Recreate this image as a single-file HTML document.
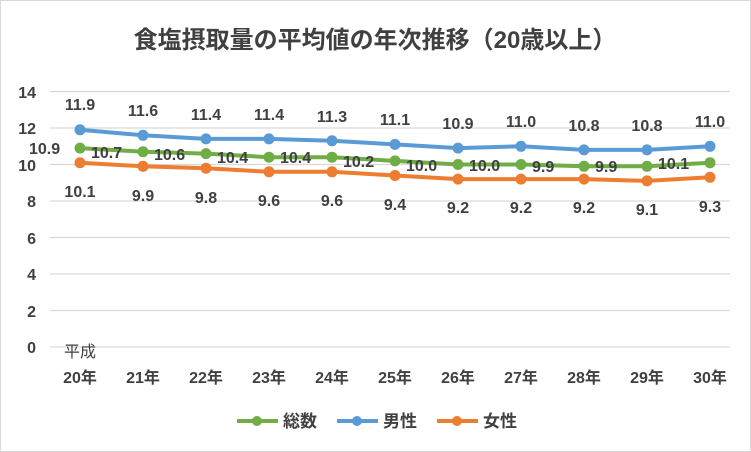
<!DOCTYPE html>
<html><head><meta charset="utf-8"><style>
body{margin:0;background:#fff}
svg{display:block;font-family:"Liberation Sans","Noto Sans CJK JP",sans-serif}
</style></head><body>
<svg width="751" height="452" viewBox="0 0 751 452">
<rect x="0.5" y="0.5" width="750" height="451" fill="#fff" stroke="#d9d9d9"/>
<text x="375" y="48" text-anchor="middle" font-size="24" font-weight="bold" fill="#404040">食塩摂取量の平均値の年次推移（20歳以上）</text>
<g stroke="#d9d9d9" stroke-width="1.3">
<line x1="50" x2="730" y1="347" y2="347"/><line x1="50" x2="730" y1="310.5" y2="310.5"/>
<line x1="50" x2="730" y1="274" y2="274"/><line x1="50" x2="730" y1="237.5" y2="237.5"/>
<line x1="50" x2="730" y1="201" y2="201"/><line x1="50" x2="730" y1="164.5" y2="164.5"/>
<line x1="50" x2="730" y1="128" y2="128"/><line x1="50" x2="730" y1="91.5" y2="91.5"/>
</g>
<g font-size="16" font-weight="bold" fill="#404040" text-anchor="end">
<text x="36" y="353">0</text><text x="36" y="317">2</text><text x="36" y="280">4</text><text x="36" y="244">6</text>
<text x="36" y="207">8</text><text x="36" y="171">10</text><text x="36" y="134">12</text><text x="36" y="98">14</text>
</g>
<g font-size="16" font-weight="bold" fill="#404040" text-anchor="middle">
<text x="80" y="357" font-weight="normal">平成</text>
<text x="80" y="383">20年</text><text x="143" y="383">21年</text><text x="206" y="383">22年</text><text x="269" y="383">23年</text>
<text x="332" y="383">24年</text><text x="395" y="383">25年</text><text x="458" y="383">26年</text><text x="521" y="383">27年</text>
<text x="584" y="383">28年</text><text x="647" y="383">29年</text><text x="710" y="383">30年</text>
</g>
<g stroke-width="4" fill="none" stroke-linejoin="round">
<polyline stroke="#5b9bd5" points="80,129.8 143,135.3 206,138.9 269,138.9 332,140.8 395,144.4 458,148.1 521,146.3 584,149.9 647,149.9 710,146.3"/>
<polyline stroke="#70ad47" points="80,148.1 143,151.7 206,153.6 269,157.2 332,157.2 395,160.9 458,164.5 521,164.5 584,166.3 647,166.3 710,162.7"/>
<polyline stroke="#ed7d31" points="80,162.7 143,166.3 206,168.2 269,171.8 332,171.8 395,175.5 458,179.1 521,179.1 584,179.1 647,180.9 710,177.3"/>
</g>
<g fill="#5b9bd5"><circle cx="80" cy="129.8" r="5.5"/><circle cx="143" cy="135.3" r="5.5"/><circle cx="206" cy="138.9" r="5.5"/><circle cx="269" cy="138.9" r="5.5"/><circle cx="332" cy="140.8" r="5.5"/><circle cx="395" cy="144.4" r="5.5"/><circle cx="458" cy="148.1" r="5.5"/><circle cx="521" cy="146.3" r="5.5"/><circle cx="584" cy="149.9" r="5.5"/><circle cx="647" cy="149.9" r="5.5"/><circle cx="710" cy="146.3" r="5.5"/></g>
<g fill="#70ad47"><circle cx="80" cy="148.1" r="5.5"/><circle cx="143" cy="151.7" r="5.5"/><circle cx="206" cy="153.6" r="5.5"/><circle cx="269" cy="157.2" r="5.5"/><circle cx="332" cy="157.2" r="5.5"/><circle cx="395" cy="160.9" r="5.5"/><circle cx="458" cy="164.5" r="5.5"/><circle cx="521" cy="164.5" r="5.5"/><circle cx="584" cy="166.3" r="5.5"/><circle cx="647" cy="166.3" r="5.5"/><circle cx="710" cy="162.7" r="5.5"/></g>
<g fill="#ed7d31"><circle cx="80" cy="162.7" r="5.5"/><circle cx="143" cy="166.3" r="5.5"/><circle cx="206" cy="168.2" r="5.5"/><circle cx="269" cy="171.8" r="5.5"/><circle cx="332" cy="171.8" r="5.5"/><circle cx="395" cy="175.5" r="5.5"/><circle cx="458" cy="179.1" r="5.5"/><circle cx="521" cy="179.1" r="5.5"/><circle cx="584" cy="179.1" r="5.5"/><circle cx="647" cy="180.9" r="5.5"/><circle cx="710" cy="177.3" r="5.5"/></g>
<g font-size="16" font-weight="bold" fill="#404040" text-anchor="middle">
<text x="80" y="110">11.9</text><text x="143" y="116">11.6</text><text x="206" y="120">11.4</text><text x="269" y="120">11.4</text><text x="332" y="122">11.3</text><text x="395" y="125">11.1</text><text x="458" y="129">10.9</text><text x="521" y="127">11.0</text><text x="584" y="131">10.8</text><text x="647" y="131">10.8</text><text x="710" y="127">11.0</text>
<text x="80" y="197">10.1</text><text x="143" y="201">9.9</text><text x="206" y="203">9.8</text><text x="269" y="206">9.6</text><text x="332" y="206">9.6</text><text x="395" y="210">9.4</text><text x="458" y="213">9.2</text><text x="521" y="213">9.2</text><text x="584" y="213">9.2</text><text x="647" y="215">9.1</text><text x="710" y="212">9.3</text>
</g>
<g font-size="16" font-weight="bold" fill="#404040">
<text x="29" y="154">10.9</text><text x="91" y="158">10.7</text><text x="154" y="160">10.6</text><text x="217" y="163">10.4</text><text x="280" y="163">10.4</text><text x="343" y="167">10.2</text><text x="406" y="171">10.0</text><text x="469" y="171">10.0</text><text x="532" y="172">9.9</text><text x="595" y="172">9.9</text><text x="658" y="169">10.1</text>
</g>
<g font-size="17" fill="#404040" font-weight="bold">
<line x1="237" x2="278" y1="421" y2="421" stroke="#70ad47" stroke-width="4"/><circle cx="257" cy="421" r="5" fill="#70ad47"/><text x="283" y="427">総数</text>
<line x1="337" x2="378" y1="421" y2="421" stroke="#5b9bd5" stroke-width="4"/><circle cx="357" cy="421" r="5" fill="#5b9bd5"/><text x="383" y="427">男性</text>
<line x1="437" x2="478" y1="421" y2="421" stroke="#ed7d31" stroke-width="4"/><circle cx="457" cy="421" r="5" fill="#ed7d31"/><text x="483" y="427">女性</text>
</g>
</svg>
</body></html>
